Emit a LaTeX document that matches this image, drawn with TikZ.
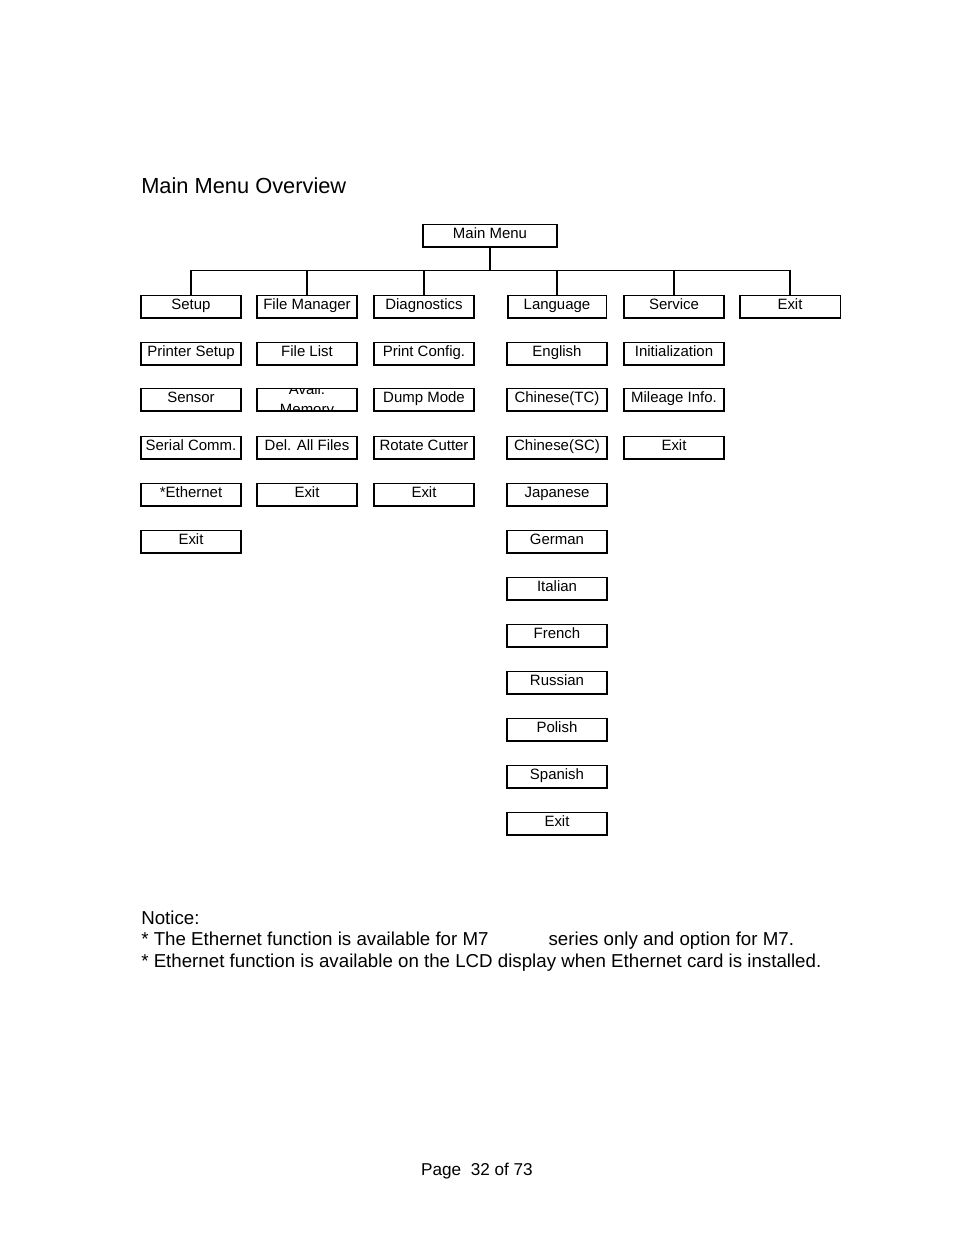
\documentclass[tikz,border=0pt]{standalone}
\usepackage{fontspec}
\setmainfont{Liberation Sans}
\begin{document}
\begin{tikzpicture}[x=0.6415pt,y=-0.6415pt,
  boxframe/.style={draw, line width=0.65pt, minimum width=64.15pt, minimum height=14.75pt,
    inner sep=0pt, outer sep=0pt, font=\fontsize{9.6}{11}\selectfont},
  boxbase/.style={boxframe, text height=6.4pt, text depth=3.2pt},
  box/.style={boxbase, path picture={\draw[line width=1.5pt]
    (path picture bounding box.north west) -- (path picture bounding box.south west)
    -- (path picture bounding box.south east);}},
  wire/.style={line width=0.65pt},
  txt/.style={anchor=base west, inner sep=0pt, font=\fontsize{12}{14}\selectfont}]
\useasboundingbox (0,0) rectangle (954,1235);

\node[txt, font=\fontsize{14}{16}\selectfont] (title) at (141,193) {Main Menu Overview};

\node[box, minimum width=85.96pt] (main) at (490,235.5) {Main Menu};

% row 1
\node[box] (setup) at (191,306.5) {Setup};
\node[box] (fm)    at (307,306.5) {File Manager};
\node[box] (diag)  at (424,306.5) {Diagnostics};
\node[box, minimum width=63.5pt] (lang) at (557,306.5) {Language};
\node[box] (serv)  at (674,306.5) {Service};
\node[box] (exit0) at (790,306.5) {Exit};

% column 1
\node[box] (psetup) at (191,353.5) {Printer Setup};
\node[box] (sensor) at (191,400) {Sensor};
\node[box] (serial) at (191,447.5) {Serial Comm.};
\node[box] (eth)    at (191,495) {*Ethernet};
\node[box] (exit1)  at (191,541.5) {Exit};

% column 2
\node[box] (flist) at (307,353.5) {File List};
\node[boxframe, path picture={
    \draw[line width=1.5pt]
    (path picture bounding box.north west) -- (path picture bounding box.south west)
    -- (path picture bounding box.south east);
    \node[align=center, inner sep=0pt, font=\fontsize{9.6}{13}\selectfont]
      at ([yshift=-0.6pt]path picture bounding box.center) {Avail.\\Memory};}] (avail) at (307,400) {};
\node[box] (delall) at (307,447.5) {Del. All Files};
\node[box] (exit2)  at (307,495) {Exit};

% column 3
\node[box] (pconf) at (424,353.5) {Print Config.};
\node[box] (dump)  at (424,400) {Dump Mode};
\node[box] (rot)   at (424,447.5) {Rotate Cutter};
\node[box] (exit3) at (424,495) {Exit};

% column 4
\begin{scope}[every node/.append style={minimum width=63.5pt}]
\node[box] (eng)   at (557,353.5) {English};
\node[box] (tc)    at (557,400) {Chinese(TC)};
\node[box] (sc)    at (557,447.5) {Chinese(SC)};
\node[box] (jap)   at (557,495) {Japanese};
\node[box] (ger)   at (557,541.5) {German};
\node[box] (ita)   at (557,588.5) {Italian};
\node[box] (fre)   at (557,635.5) {French};
\node[box] (rus)   at (557,682.5) {Russian};
\node[box] (pol)   at (557,729.5) {Polish};
\node[box] (spa)   at (557,776.5) {Spanish};
\node[box] (exit4) at (557,823.5) {Exit};
\end{scope}

% column 5
\node[box] (init)  at (674,353.5) {Initialization};
\node[box] (mile)  at (674,400) {Mileage Info.};
\node[box] (exit5) at (674,447.5) {Exit};

% tree connectors
\coordinate (bus) at (490,270);
\draw[wire] (main.south) -- (bus);
\draw[wire] (setup.north) -- (setup.north |- bus) -- (exit0.north |- bus) -- (exit0.north);
\foreach \n in {fm,diag,lang,serv}
  \draw[wire] (\n.north) -- (\n.north |- bus);

% notice
\node[txt] (notice) at (141,924) {Notice:};
\node[txt] (note1) at (141,945) {* The Ethernet function is available for M7\hspace{38.5pt}series only and option for M7.};
\node[txt] (note2) at (141,967) {* Ethernet function is available on the LCD display when Ethernet card is installed.};

\node[anchor=base, inner sep=0pt, font=\fontsize{11}{13}\selectfont] (page) at (477,1175) {Page\ \ 32 of 73};
\end{tikzpicture}
\end{document}
